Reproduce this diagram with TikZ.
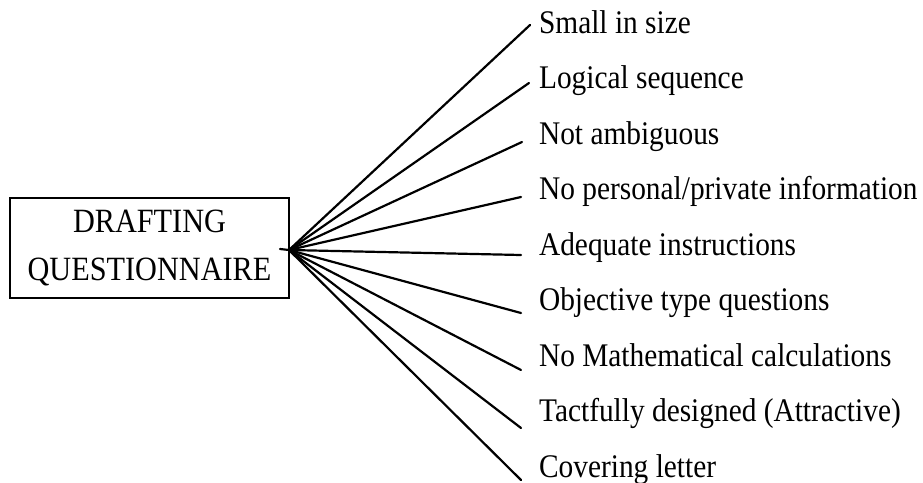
\documentclass[tikz,border=0pt]{standalone}
\usepackage{fontspec}
\setmainfont[FakeStretch=0.89]{Liberation Serif}
\begin{document}
\begin{tikzpicture}[x=1pt,y=-1pt,
  line width=2.2pt,
  headbox/.style={draw, rectangle, inner sep=0pt, minimum width=279pt,
    minimum height=100pt, align=center,
    font=\fontsize{34}{48}\selectfont},
  item/.style={anchor=base west, inner sep=0pt,
    font=\fontsize{33}{38}\selectfont},
  spoke/.style={line cap=round}]
\useasboundingbox (0,0) rectangle (923,482);

% central box
\node[headbox] (box) at (149.5,248) {DRAFTING\\QUESTIONNAIRE};
\coordinate (hub) at (289,250);
\coordinate (stub) at (280,249);

% list of items on the right
\node[item] (t1) at (538,33)    {Small in size};
\node[item] (t2) at (538,88.5)  {Logical sequence};
\node[item] (t3) at (538,144)   {Not ambiguous};
\node[item] (t4) at (538,199.5) {No personal/private information};
\node[item] (t5) at (538,255)   {Adequate instructions};
\node[item] (t6) at (538,310.5) {Objective type questions};
\node[item] (t7) at (538,366)   {No Mathematical calculations};
\node[item] (t8) at (538,421.5) {Tactfully designed (Attractive)};
\node[item] (t9) at (538,477)   {Covering letter};

% free ends of the spokes, just left of each item
\coordinate (e1) at (530,25);
\coordinate (e2) at (529,83);
\coordinate (e3) at (522,142);
\coordinate (e4) at (521,197);
\coordinate (e5) at (521,255);
\coordinate (e6) at (521,313);
\coordinate (e7) at (521,370);
\coordinate (e8) at (521,428);
\coordinate (e9) at (521,480);

% spokes fanning out from the box
\foreach \i in {1,2,3,4,6,7,8,9}
  \draw[spoke] (hub) -- (e\i);
\draw[spoke] (stub) -- (hub) -- (e5);
\end{tikzpicture}
\end{document}
